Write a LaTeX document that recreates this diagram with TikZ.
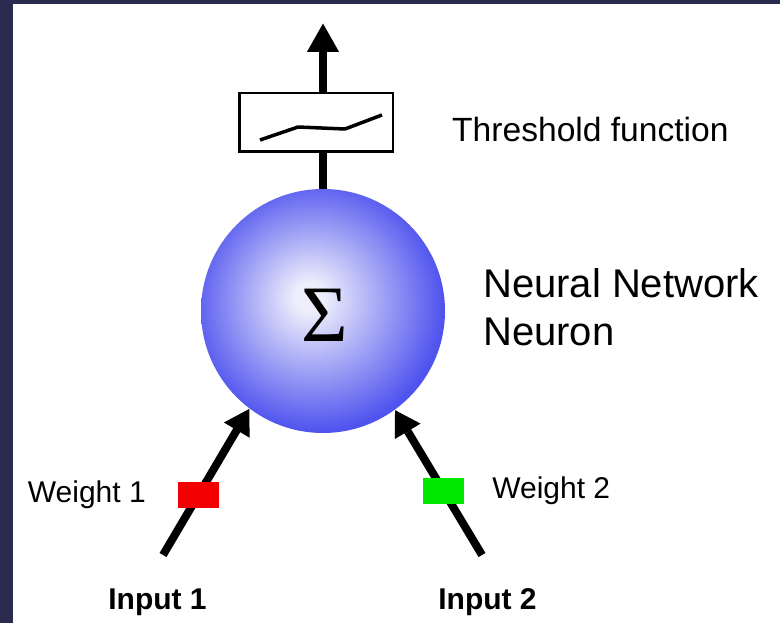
\documentclass[tikz,border=0pt]{standalone}
\usepackage{fontspec}
\setmainfont{Liberation Sans}
\newfontfamily\sigmafont{Liberation Serif}
\usetikzlibrary{calc,positioning,arrows.meta}
\usepackage{xcolor}

\definecolor{frameblue}{RGB}{42,42,78}
\definecolor{ballin}{RGB}{238,238,252}
\definecolor{ballout}{RGB}{80,84,238}
\definecolor{wred}{RGB}{240,0,0}
\definecolor{wgreen}{RGB}{0,232,0}
\pgfdeclareradialshading{neuronshade}{\pgfpoint{-3bp}{3bp}}{color(0bp)=(ballin); color(3bp)=(ballin); color(26bp)=(ballout); color(50bp)=(ballout)}

\begin{document}
\begin{tikzpicture}[x=1pt,y=-1pt,
  lbl/.style={inner sep=0pt, font=\fontsize{30}{36}\selectfont},
  inlbl/.style={inner sep=0pt, font=\fontsize{30}{36}\selectfont\bfseries},
  wire/.style={line width=8.5pt},
  inarrow/.style={line width=8pt, -{Triangle[width=28pt,length=25pt]}},
  weightbox/.style={minimum width=41pt, minimum height=26pt, inner sep=0pt}]

\useasboundingbox (0,0) rectangle (780,623);
\fill[white] (0,0) rectangle (780,623);
\fill[frameblue] (0,0) rectangle (780,4);
\fill[frameblue] (0,0) rectangle (13,623);

% Neuron: shaded ball with the sum sign
\node[circle, minimum size=244pt, inner sep=0pt, shade, shading=neuronshade] (neuron) at (323,311) {};
\node[inner sep=0pt, font=\sigmafont\fontsize{80}{80}\selectfont] (sigma) at (325,315) {Σ};

\node[anchor=north west, align=left, inner sep=0pt, font=\fontsize{40}{48}\selectfont] (neuronlbl) at (483,268) {Neural Network\\Neuron};

% Threshold box and output
\node[draw, line width=2.5pt, minimum width=153.5pt, minimum height=58.5pt, inner sep=0pt] (thresh) at (316,122.5) {};
\draw[line width=3.5pt, line join=round] (260,140) -- (298,127) -- (345,129) -- (382,115);
\node[lbl, anchor=base west, font=\fontsize{33.6}{40}\selectfont] (threshlbl) at (452,142) {Threshold function};

\coordinate (out) at (323,23);
\draw[wire] (neuron.north) -- (neuron.north |- thresh.south);
\draw[wire, -{Triangle[width=30pt,length=29pt]}] (neuron.north |- thresh.north) -- (out);

% Inputs with weights
\coordinate (in1) at (163,555);
\coordinate (in2) at (482,555);
\draw[inarrow] (in1) -- node[pos=0.41, weightbox, fill=wred] (w1) {} (neuron.233);
\draw[inarrow] (in2) -- node[pos=0.44, weightbox, fill=wgreen] (w2) {} (neuron.306);

\node[lbl, left=28pt of w1] (wlbl1) {Weight 1};
\node[lbl, right=24pt of w2] (wlbl2) {Weight 2};

\node[inlbl, anchor=base] (inlbl1) at (157.5,609) {Input 1};
\node[inlbl, anchor=base] (inlbl2) at (487.5,609) {Input 2};

\end{tikzpicture}
\end{document}
